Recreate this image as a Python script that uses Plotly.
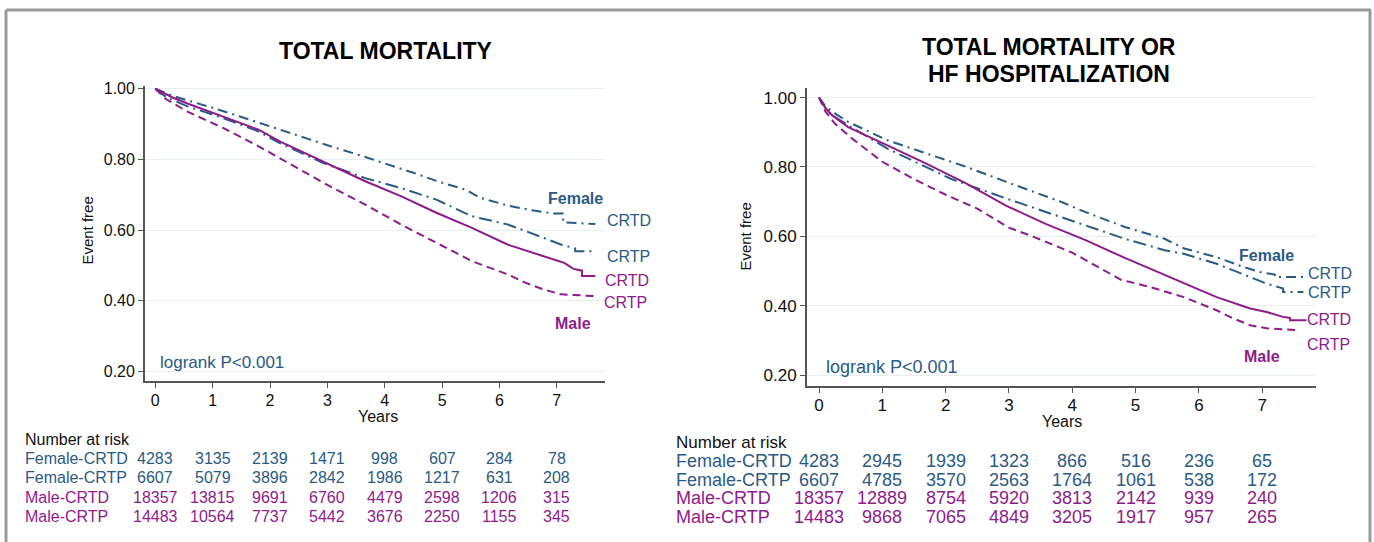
import plotly.graph_objects as go

W, H = 1374, 542
BLUE = "#2B5A85"
PURPLE = "#8E1B8C"
FONT = "Liberation Sans, Arial, sans-serif"

# ---------------- data: TOTAL MORTALITY ----------------
mort_fcrtd_t = [0, 0.3, 0.6, 1.0, 1.5, 2.0, 2.5, 3.0, 3.5, 4.0, 4.5, 4.9, 5.43, 5.65, 6.15, 6.6, 6.95, 7.11, 7.11, 7.67]
mort_fcrtd_v = [1, 0.98, 0.965, 0.946, 0.92, 0.893, 0.866, 0.84, 0.815, 0.789, 0.762, 0.739, 0.713, 0.692, 0.669, 0.655, 0.647, 0.647, 0.622, 0.617]
mort_fcrtp_t = [0, 0.2, 0.56, 1.18, 1.8, 2.17, 2.92, 3.66, 4.28, 4.9, 5.52, 6.14, 6.77, 7.07, 7.32, 7.32, 7.67]
mort_fcrtp_v = [1, 0.975, 0.95, 0.917, 0.879, 0.846, 0.79, 0.747, 0.719, 0.686, 0.639, 0.616, 0.578, 0.559, 0.548, 0.540, 0.540]
mort_mcrtd_t = [0, 0.3, 0.56, 1.18, 1.8, 2.17, 2.92, 3.66, 4.28, 4.9, 5.52, 6.14, 6.77, 7.13, 7.29, 7.44, 7.44, 7.67]
mort_mcrtd_v = [1, 0.975, 0.958, 0.922, 0.884, 0.851, 0.795, 0.738, 0.696, 0.649, 0.606, 0.559, 0.526, 0.507, 0.49, 0.485, 0.47, 0.47]
mort_mcrtp_t = [0, 0.19, 0.56, 1.18, 1.8, 2.42, 3.04, 3.66, 4.28, 4.9, 5.52, 6.14, 6.45, 6.77, 7.07, 7.67]
mort_mcrtp_v = [1, 0.97, 0.935, 0.889, 0.837, 0.781, 0.724, 0.672, 0.616, 0.564, 0.512, 0.475, 0.451, 0.432, 0.418, 0.413]

# ---------------- data: TOTAL MORTALITY OR HF HOSPITALIZATION ----------------
hf_fcrtd_t = [0, 0.1, 0.21, 0.46, 1.08, 1.71, 2.33, 2.96, 3.83, 4.21, 4.83, 5.46, 5.77, 6.28, 6.7, 6.97, 7.2, 7.2, 7.65]
hf_fcrtd_v = [1, 0.975, 0.959, 0.93, 0.877, 0.838, 0.8, 0.757, 0.699, 0.67, 0.627, 0.593, 0.565, 0.54, 0.512, 0.497, 0.49, 0.483, 0.483]
hf_fcrtp_t = [0, 0.1, 0.2, 0.46, 1.08, 2.08, 2.96, 3.83, 4.21, 4.83, 5.46, 5.76, 6.28, 6.81, 7.07, 7.33, 7.33, 7.65]
hf_fcrtp_v = [1, 0.97, 0.95, 0.92, 0.853, 0.766, 0.709, 0.656, 0.632, 0.593, 0.56, 0.55, 0.521, 0.483, 0.464, 0.45, 0.44, 0.44]
hf_mcrtd_t = [0, 0.1, 0.2, 0.46, 1.08, 1.71, 2.33, 2.96, 3.58, 4.21, 4.83, 5.23, 5.76, 6.28, 6.81, 7.07, 7.33, 7.44, 7.44, 7.7]
hf_mcrtd_v = [1, 0.97, 0.95, 0.915, 0.862, 0.808, 0.752, 0.688, 0.636, 0.589, 0.538, 0.507, 0.464, 0.425, 0.392, 0.382, 0.368, 0.365, 0.358, 0.358]
hf_mcrtp_t = [0, 0.1, 0.25, 0.5, 1.0, 1.5, 2.0, 2.5, 3.0, 3.4, 4.0, 4.77, 5.23, 5.76, 6.28, 6.55, 6.81, 7.07, 7.6]
hf_mcrtp_v = [1, 0.96, 0.925, 0.885, 0.815, 0.765, 0.72, 0.68, 0.625, 0.598, 0.553, 0.475, 0.454, 0.425, 0.387, 0.363, 0.344, 0.335, 0.329]

# ---------------- number at risk ----------------
risk_years = [0, 1, 2, 3, 4, 5, 6, 7]
risk_groups = ["Female-CRTD", "Female-CRTP", "Male-CRTD", "Male-CRTP"]
mort_risk_fcrtd = [4283, 3135, 2139, 1471, 998, 607, 284, 78]
mort_risk_fcrtp = [6607, 5079, 3896, 2842, 1986, 1217, 631, 208]
mort_risk_mcrtd = [18357, 13815, 9691, 6760, 4479, 2598, 1206, 315]
mort_risk_mcrtp = [14483, 10564, 7737, 5442, 3676, 2250, 1155, 345]
hf_risk_fcrtd = [4283, 2945, 1939, 1323, 866, 516, 236, 65]
hf_risk_fcrtp = [6607, 4785, 3570, 2563, 1764, 1061, 538, 172]
hf_risk_mcrtd = [18357, 12889, 8754, 5920, 3813, 2142, 939, 240]
hf_risk_mcrtp = [14483, 9868, 7065, 4849, 3205, 1917, 957, 265]

y_ticks = [0.2, 0.4, 0.6, 0.8, 1.0]


def px(x):
    return x / W


def py(y):
    # pixel row (from top) -> paper fraction
    return 1 - (y - 5) / (H - 5)


fig = go.Figure()

styles = [
    (BLUE, "10px,5px,2px,5px", 2),
    (BLUE, "13px,5px,2px,5px", 2),
    (PURPLE, "solid", 2),
    (PURPLE, "8px,5px", 2),
]

mort_series = [(mort_fcrtd_t, mort_fcrtd_v), (mort_fcrtp_t, mort_fcrtp_v),
               (mort_mcrtd_t, mort_mcrtd_v), (mort_mcrtp_t, mort_mcrtp_v)]
hf_series = [(hf_fcrtd_t, hf_fcrtd_v), (hf_fcrtp_t, hf_fcrtp_v),
             (hf_mcrtd_t, hf_mcrtd_v), (hf_mcrtp_t, hf_mcrtp_v)]

for (t, v), (c, d, w), name in zip(mort_series, styles, risk_groups):
    fig.add_trace(go.Scatter(x=t, y=v, mode="lines", name=name, xaxis="x", yaxis="y",
                             line=dict(color=c, dash=d, width=w), showlegend=False))
for (t, v), (c, d, w), name in zip(hf_series, styles, risk_groups):
    fig.add_trace(go.Scatter(x=t, y=v, mode="lines", name=name, xaxis="x2", yaxis="y2",
                             line=dict(color=c, dash=d, width=w), showlegend=False))

AXC = "#555555"
GRID = "#e4eef3"


def xax(domain, rng, fs, standoff):
    return dict(domain=domain, range=rng, tickvals=risk_years, ticks="outside", ticklen=5,
                tickcolor=AXC, tickwidth=1.2, showline=True, linecolor=AXC, linewidth=1.8,
                showgrid=False, zeroline=False, ticklabelstandoff=standoff,
                tickfont=dict(size=fs, color="#111", family=FONT))


def yax(domain, rng, fs):
    return dict(domain=domain, range=rng, tickvals=y_ticks, tickformat=".2f", ticks="outside",
                ticklen=5, tickcolor=AXC, tickwidth=1.2, showline=True, linecolor=AXC,
                linewidth=1.8, showgrid=True, gridcolor=GRID, gridwidth=1.2, zeroline=False,
                tickfont=dict(size=fs, color="#111", family=FONT))


fig.update_layout(
    width=W, height=H, margin=dict(l=0, r=0, t=0, b=0),
    paper_bgcolor="white", plot_bgcolor="white",
    xaxis=dict(**xax([px(145), px(605)], [-0.18, 7.84], 16, -1), anchor="y"),
    yaxis=dict(**yax([py(381), py(85)], [0.172, 1.008], 16), anchor="x"),
    xaxis2=dict(**xax([px(807), px(1316)], [-0.19, 7.85], 17, -3), anchor="y2"),
    yaxis2=dict(**yax([py(386), py(87)], [0.168, 1.028], 17), anchor="x2"),
    font=dict(family=FONT),
)

ann = []


def text(x, y, s, size, color, xanchor="left", bold=False, xref="paper", angle=0):
    if bold:
        s = "<b>" + s + "</b>"
    ann.append(dict(x=x if xref != "paper" else px(x), y=py(y), xref=xref, yref="paper", text=s,
                    showarrow=False, xanchor=xanchor, yanchor="middle", textangle=angle,
                    font=dict(size=size, color=color, family=FONT)))


# titles
text(385, 50, "TOTAL MORTALITY", 23, "black", "center", True)
text(1049, 46, "TOTAL MORTALITY OR", 23, "black", "center", True)
text(1049, 73, "HF HOSPITALIZATION", 23, "black", "center", True)
# axis titles
text(88, 230, "Event free", 15, "#111", "center", angle=-90)
text(746, 236, "Event free", 15, "#111", "center", angle=-90)
text(378, 416, "Years", 16, "#111", "center")
text(1062, 421, "Years", 16, "#111", "center")
# curve labels - left
text(575, 198, "Female", 16, BLUE, "center", True)
text(605, 220, "CRTD", 16, BLUE)
text(605, 256, "CRTP", 16, BLUE)
text(603, 280, "CRTD", 16, PURPLE)
text(602, 302, "CRTP", 16, PURPLE)
text(573, 323, "Male", 16, PURPLE, "center", True)
text(158, 362, "logrank P&lt;0.001", 17, BLUE)
# curve labels - right
text(1266, 255, "Female", 16, BLUE, "center", True)
text(1306, 273, "CRTD", 16, BLUE)
text(1306, 292, "CRTP", 16, BLUE)
text(1305, 319, "CRTD", 16, PURPLE)
text(1305, 344, "CRTP", 16, PURPLE)
text(1262, 356, "Male", 16, PURPLE, "center", True)
text(824, 367, "logrank P&lt;0.001", 18, BLUE)

# number at risk tables
colors = [BLUE, BLUE, PURPLE, PURPLE]
text(23, 439, "Number at risk", 16, "#111")
mort_rows = [mort_risk_fcrtd, mort_risk_fcrtp, mort_risk_mcrtd, mort_risk_mcrtp]
for i, (g, row, c) in enumerate(zip(risk_groups, mort_rows, colors)):
    yy = 458 + i * 19.5
    text(23, yy, g, 16, c)
    for yr, n in zip(risk_years, row):
        text(yr, yy, str(n), 16, c, "center", xref="x")

text(674, 442, "Number at risk", 17, "#111")
hf_rows = [hf_risk_fcrtd, hf_risk_fcrtp, hf_risk_mcrtd, hf_risk_mcrtp]
for i, (g, row, c) in enumerate(zip(risk_groups, hf_rows, colors)):
    yy = 461 + i * 18.7
    text(674, yy, g, 18, c)
    for yr, n in zip(risk_years, row):
        text(yr, yy, str(n), 18, c, "center", xref="x2")

fig.update_layout(annotations=ann)

# outer frame
FR = "#9a9a9a"
shapes = [
    dict(type="line", xref="paper", yref="paper", x0=px(6), x1=px(1371), y0=py(9), y1=py(9),
         line=dict(color=FR, width=3)),
    dict(type="line", xref="paper", yref="paper", x0=px(6), x1=px(6), y0=py(9), y1=py(548),
         line=dict(color=FR, width=3)),
    dict(type="line", xref="paper", yref="paper", x0=px(1370), x1=px(1370), y0=py(9), y1=py(548),
         line=dict(color=FR, width=3)),
]
fig.update_layout(shapes=shapes)

fig.write_html("out.html", config={"displayModeBar": False},
               post_script="document.body.style.margin='0px';")
